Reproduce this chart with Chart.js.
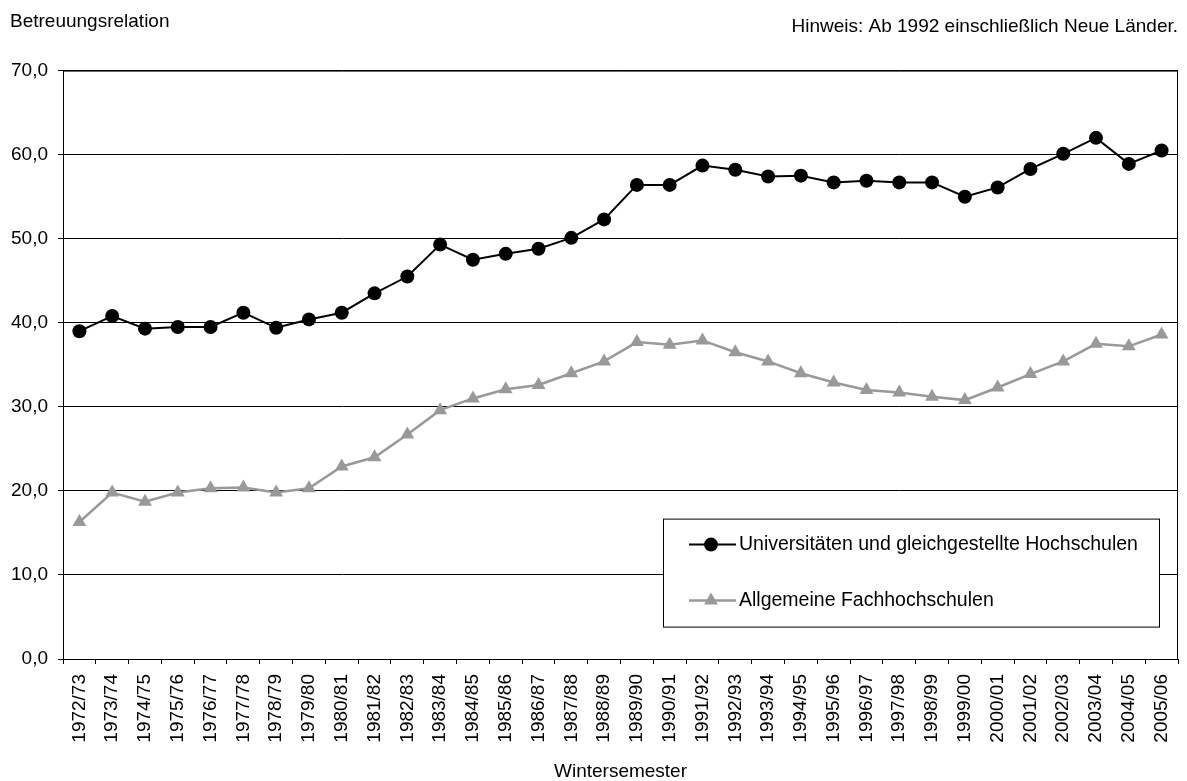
<!DOCTYPE html>
<html>
<head>
<meta charset="utf-8">
<script src="https://cdn.jsdelivr.net/npm/chart.js@4.4.1/dist/chart.umd.min.js"></script>
<style>
  body { margin: 0; background: #fff; }
  #wrap { width: 1187px; height: 781px; }
</style>
</head>
<body>
<div id="wrap"><canvas id="grafico"></canvas></div>
<script>
const semester = ["1972/73", "1973/74", "1974/75", "1975/76", "1976/77", "1977/78", "1978/79", "1979/80",
  "1980/81", "1981/82", "1982/83", "1983/84", "1984/85", "1985/86", "1986/87", "1987/88", "1988/89",
  "1989/90", "1990/91", "1991/92", "1992/93", "1993/94", "1994/95", "1995/96", "1996/97", "1997/98",
  "1998/99", "1999/00", "2000/01", "2001/02", "2002/03", "2003/04", "2004/05", "2005/06"];

const universitaeten = [39.0, 40.8, 39.3, 39.5, 39.5, 41.2, 39.4, 40.4, 41.2, 43.5, 45.5, 49.3, 47.5, 48.2,
  48.8, 50.1, 52.3, 56.4, 56.4, 58.7, 58.2, 57.4, 57.5, 56.7, 56.9, 56.7, 56.7, 55.0, 56.1, 58.3, 60.1,
  62.0, 58.9, 60.5];

const fachhochschulen = [16.3, 19.8, 18.7, 19.8, 20.3, 20.4, 19.8, 20.3, 22.9, 24.0, 26.7, 29.6, 31.0, 32.1,
  32.6, 34.0, 35.4, 37.7, 37.4, 37.9, 36.5, 35.4, 34.0, 32.9, 32.0, 31.7, 31.2, 30.8, 32.3, 33.9, 35.4,
  37.5, 37.2, 38.6];

const yTicks = [0, 10, 20, 30, 40, 50, 60, 70];

const fonte = "'Liberation Sans', Arial, sans-serif";

// Legende als Kasten innerhalb der Zeichenfläche
const legendeImDiagramm = {
  id: "legendeImDiagramm",
  afterDraw(chart) {
    const ctx = chart.ctx;
    const a = chart.chartArea;
    const x = a.left + 600, y = a.top + 448, w = 496, h = 108;
    ctx.save();
    ctx.fillStyle = "#fff";
    ctx.fillRect(x, y, w, h);
    ctx.strokeStyle = "#000";
    ctx.lineWidth = 1;
    ctx.strokeRect(x + 0.5, y + 0.5, w, h);
    const zeilen = [
      { ds: chart.data.datasets[0], cy: y + 26 },
      { ds: chart.data.datasets[1], cy: y + 82 }
    ];
    zeilen.forEach(z => {
      ctx.strokeStyle = z.ds.borderColor;
      ctx.lineWidth = z.ds.borderWidth;
      ctx.beginPath();
      ctx.moveTo(x + 26, z.cy);
      ctx.lineTo(x + 73, z.cy);
      ctx.stroke();
      ctx.fillStyle = z.ds.pointBackgroundColor;
      ctx.strokeStyle = z.ds.pointBackgroundColor;
      Chart.helpers.drawPoint(ctx, {
        pointStyle: z.ds.pointStyle,
        radius: z.ds.pointRadius,
        rotation: 0,
        borderWidth: 0
      }, x + 48, z.cy);
      ctx.fillStyle = "#000";
      ctx.font = "19.5px " + fonte;
      ctx.textBaseline = "middle";
      ctx.fillText(z.ds.label, x + 76, z.cy);
    });
    ctx.restore();
  }
};

new Chart(document.getElementById("grafico"), {
  type: "line",
  data: {
    labels: semester,
    datasets: [
      {
        label: "Universitäten und gleichgestellte Hochschulen",
        data: universitaeten,
        borderColor: "#000000",
        backgroundColor: "#000000",
        pointBackgroundColor: "#000000",
        pointBorderColor: "#000000",
        borderWidth: 2,
        pointStyle: "circle",
        pointRadius: 7,
        pointBorderWidth: 0,
        tension: 0
      },
      {
        label: "Allgemeine Fachhochschulen",
        data: fachhochschulen,
        borderColor: "#999999",
        backgroundColor: "#999999",
        pointBackgroundColor: "#999999",
        pointBorderColor: "#999999",
        borderWidth: 2.5,
        pointStyle: "triangle",
        pointRadius: 8,
        pointBorderWidth: 0,
        tension: 0
      }
    ]
  },
  options: {
    responsive: true,
    maintainAspectRatio: false,
    animation: false,
    layout: { padding: { left: 10, right: 9, top: 0, bottom: 0 } },
    plugins: {
      legend: { display: false },
      tooltip: { enabled: false },
      title: {
        display: true,
        text: "Betreuungsrelation",
        align: "start",
        color: "#000",
        font: { family: fonte, size: 19, weight: "normal" },
        padding: { top: 10, bottom: 0 }
      },
      subtitle: {
        display: true,
        text: "Hinweis: Ab 1992 einschließlich Neue Länder.",
        align: "end",
        color: "#000",
        font: { family: fonte, size: 19, weight: "normal" },
        padding: { top: -17, bottom: 32 }
      }
    },
    scales: {
      x: {
        offset: true,
        border: { display: true, color: "#000", width: 1 },
        grid: { display: true, offset: true, drawOnChartArea: false, drawTicks: true, tickLength: 5, color: "#000" },
        afterFit: s => { s.paddingLeft = 0; s.paddingRight = 0; s.height = 122; },
        ticks: {
          color: "#000",
          font: { family: fonte, size: 19 },
          minRotation: 90,
          maxRotation: 90,
          autoSkip: false,
          padding: 10
        },
        title: {
          display: true,
          text: "Wintersemester",
          color: "#000",
          font: { family: fonte, size: 19 },
          padding: { top: 9, bottom: -2 }
        }
      },
      y: {
        min: yTicks[0],
        max: yTicks[yTicks.length - 1],
        border: { display: true, color: "#000", width: 1 },
        grid: { color: "#000", lineWidth: 1, tickLength: 5 },
        afterBuildTicks: axis => { axis.ticks = yTicks.map(v => ({ value: v })); },
        afterFit: s => { s.width = 53; },
        ticks: {
          color: "#000",
          font: { family: fonte, size: 19 },
          padding: 10,
          callback: v => v.toFixed(1).replace(".", ",")
        }
      }
    }
  },
  plugins: [
    legendeImDiagramm,
    {
      id: "rahmen",
      afterDatasetsDraw(chart) {
        const a = chart.chartArea;
        const ctx = chart.ctx;
        ctx.save();
        ctx.strokeStyle = "#000";
        ctx.lineWidth = 1;
        ctx.beginPath();
        ctx.moveTo(a.left, a.top + 0.5);
        ctx.lineTo(a.right - 0.5, a.top + 0.5);
        ctx.lineTo(a.right - 0.5, a.bottom);
        ctx.stroke();
        ctx.restore();
      }
    }
  ]
});
</script>
</body>
</html>
